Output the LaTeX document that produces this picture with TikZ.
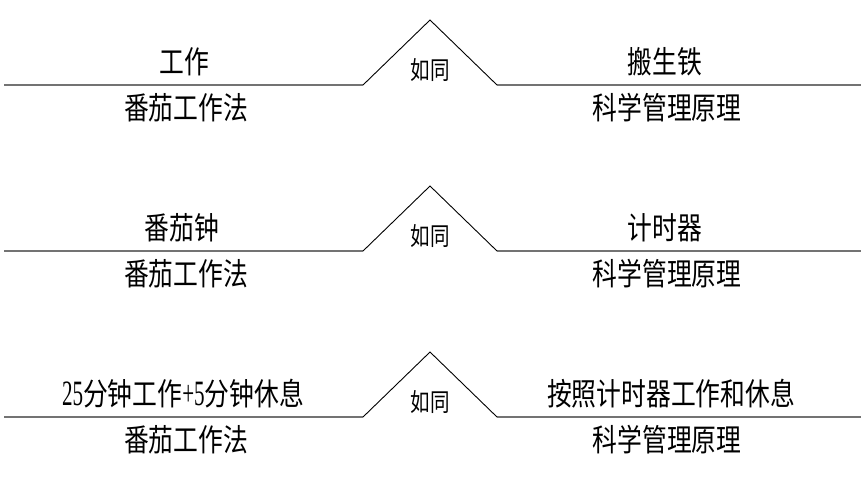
\documentclass[tikz,border=0pt]{standalone}
\usepackage{fontspec}
\usepackage{graphicx}
\newfontfamily\cjk{Noto Sans CJK SC}
\newfontfamily\lat{Liberation Serif}
\newcommand{\dg}[1]{{\lat\scalebox{0.85}[1.15]{#1}}}
\begin{document}
\begin{tikzpicture}[x=1pt,y=-1pt,
  lbl/.style={font=\cjk\fontsize{31}{34}\selectfont, xscale=0.8, inner sep=0pt},
  mid/.style={font=\cjk\fontsize{25}{28}\selectfont, xscale=0.78, inner sep=0pt},
  base/.style={draw=black!55, line width=1.3pt},
  roof/.style={draw=black, line width=0.9pt}]
\useasboundingbox (0,0) rectangle (866,483);
\fill[white] (0,0) rectangle (866,483);
\foreach \r/\y in {1/85,2/251,3/417}{
  \coordinate (L\r) at (4,\y);
  \coordinate (A\r) at (363,\y);
  \coordinate (P\r) at (430,\y-65);
  \coordinate (B\r) at (497,\y);
  \coordinate (R\r) at (861,\y);
  \draw[base] (L\r) -- (A\r);
  \draw[base] (B\r) -- (R\r);
  \draw[roof] (A\r) -- (P\r) -- (B\r);
  \node[mid] (m\r) at (430,\y-15) {如同};
  \node[lbl] (bl\r) at (186,\y+23) {番茄工作法};
  \node[lbl] (br\r) at (667,\y+23) {科学管理原理};
}
\node[lbl] (tl1) at (184,62) {工作};
\node[lbl] (tr1) at (665,62) {搬生铁};
\node[lbl] (tl2) at (182,228) {番茄钟};
\node[lbl] (tr2) at (665,228) {计时器};
\node[lbl] (tl3) at (183,394) {\dg{25}分钟工作\dg{+5}分钟休息};
\node[lbl] (tr3) at (671,394) {按照计时器工作和休息};
\end{tikzpicture}
\end{document}
